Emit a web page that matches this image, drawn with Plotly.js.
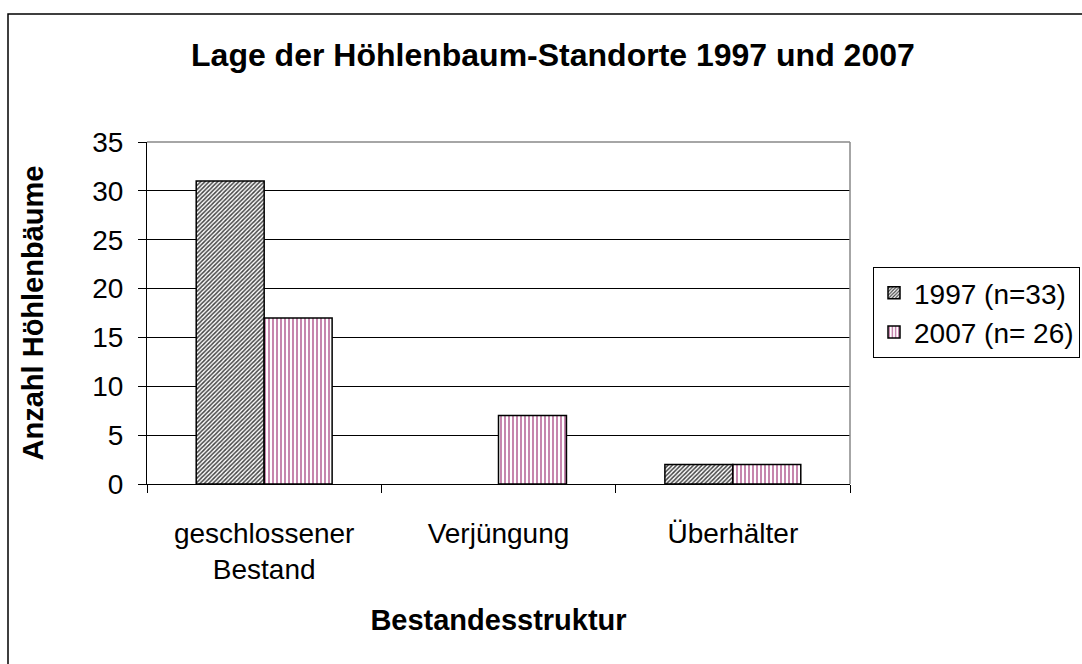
<!DOCTYPE html>
<html><head><meta charset="utf-8">
<script src="https://cdn.plot.ly/plotly-3.0.1.min.js"></script>
<style>body{margin:0;background:#fff}#chart{width:1082px;height:664px}</style>
</head><body><div id="chart"></div>
<script>
const categories = ["geschlossener<br>Bestand", "Verjüngung", "Überhälter"];
const series1997 = [31, 0, 2];
const series2007 = [17, 7, 2];
const seriesNames = ["1997 (n=33)", "2007 (n= 26)"];
const yTicks = [0, 5, 10, 15, 20, 25, 30, 35];

const W = 1082, H = 664;
const m = {l: 147, r: 232, t: 142, b: 180};
const pw = W - m.l - m.r, ph = H - m.t - m.b;
const px = x => (x - m.l) / pw;
const py = y => (H - m.b - y) / ph;
const font = "Arial, 'Liberation Sans', sans-serif";
const outline = v => v === 0 ? 0 : 1.5;

const traces = [
  {type: 'bar', name: seriesNames[0], x: categories, y: series1997,
   marker: {color: '#ffffff', line: {color: '#000', width: series1997.map(outline)},
            pattern: {shape: '/', fgcolor: '#444444', bgcolor: '#ffffff', size: 3, solidity: 0.5}}},
  {type: 'bar', name: seriesNames[1], x: categories, y: series2007,
   marker: {color: '#ffffff', line: {color: '#000', width: series2007.map(outline)},
            pattern: {shape: '|', fgcolor: '#b8689a', bgcolor: '#ffffff', size: 4, solidity: 0.4}}}
];

const layout = {
  width: W, height: H, margin: Object.assign({autoexpand: false}, m),
  paper_bgcolor: '#fff', plot_bgcolor: '#fff',
  font: {family: font, size: 28, color: '#000'},
  barmode: 'group', bargap: 0.42, bargroupgap: 0,
  title: {text: '<b>Lage der Höhlenbaum-Standorte 1997 und 2007</b>', font: {family: font, size: 32, color: '#000'},
          x: 0.511, xanchor: 'center', y: 1 - 55 / H, yanchor: 'middle', xref: 'container', yref: 'container'},
  xaxis: {title: {text: '<b>Bestandesstruktur</b>', font: {size: 29}, standoff: 25},
          showline: true, linecolor: '#000', linewidth: 1,
          ticks: 'outside', tickson: 'boundaries', ticklen: 8, tickcolor: '#000',
          ticklabelstandoff: 24, tickfont: {size: 28}, showgrid: false, automargin: false},
  yaxis: {title: {text: '<b>Anzahl Höhlenbäume</b>', font: {size: 29}, standoff: 40},
          range: [0, 35], tickvals: yTicks, ticks: 'outside', ticklen: 8, tickcolor: '#000',
          ticklabelstandoff: 9, automargin: false,
          showline: true, linecolor: '#000', linewidth: 1,
          showgrid: true, gridcolor: '#000', gridwidth: 1, zeroline: false, tickfont: {size: 28}},
  legend: {x: px(873), y: py(267), xanchor: 'left', yanchor: 'top',
           bordercolor: '#000', borderwidth: 1, bgcolor: '#fff',
           font: {size: 28}, tracegroupgap: 0, itemwidth: 30},
  shapes: [
    {type: 'line', xref: 'paper', yref: 'paper', x0: 0, x1: 1, y0: 1, y1: 1, line: {color: '#888', width: 1.5}},
    {type: 'line', xref: 'paper', yref: 'paper', x0: 1, x1: 1, y0: 0, y1: 1, line: {color: '#888', width: 1.5}},
    {type: 'rect', xref: 'paper', yref: 'paper', x0: px(8), x1: px(1090), y0: py(14), y1: py(680),
     line: {color: '#000', width: 1.5}, layer: 'below'}
  ],
  showlegend: true
};

Plotly.newPlot('chart', traces, layout, {displayModeBar: false, staticPlot: true});
</script></body></html>
